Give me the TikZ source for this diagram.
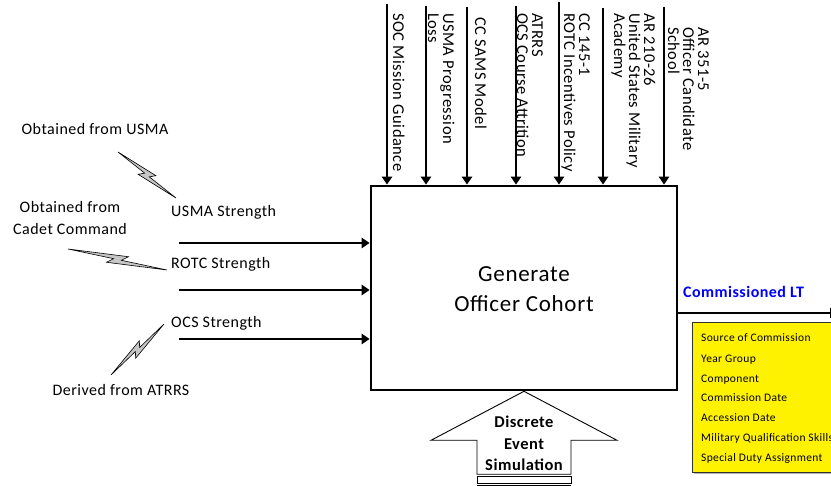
\documentclass[tikz,border=0pt]{standalone}
\usepackage{fontspec}
\setmainfont{Carlito}[LetterSpace=3]
\usetikzlibrary{arrows.meta,calc,shadows}

% Lightning-bolt link from a note (#1) to the label it annotates (#2)
\newcommand\lightningbolt[2]{%
  \filldraw[bolt] (#1)
    -- ($(#1)!0.60!(#2)!5pt!90:(#2)$)
    -- ($(#1)!0.54!(#2)$)
    -- (#2)
    -- ($(#1)!0.40!(#2)!5pt!-90:(#2)$)
    -- ($(#1)!0.46!(#2)$)
    -- cycle;}

\begin{document}
\begin{tikzpicture}[x=1pt,y=-1pt,
  feed/.style={line width=2.6pt,-{Triangle[length=8pt,width=10pt]}},
  procbox/.style={draw,line width=2.6pt,minimum width=306pt,minimum height=204pt,inner sep=0pt},
  proctext/.style={align=center,inner sep=0pt,font=\fontsize{23}{30}\selectfont},
  vlabel/.style={rotate=-90,anchor=south west,align=left,inner sep=0pt,text depth=0pt,
    font=\fontsize{16.5}{15}\selectfont},
  inlabel/.style={inner sep=0pt,font=\fontsize{16}{22}\selectfont},
  bolt/.style={fill=gray!45,draw=black,line width=0.6pt,line join=miter},
  outlabel/.style={inner sep=0pt,text=blue,font=\fontsize{16}{18}\selectfont\bfseries},
  attrbox/.style={draw=black!80,line width=0.8pt,fill=yellow,minimum width=160pt,minimum height=150pt,
    inner sep=0pt,drop shadow={shadow xshift=2pt,shadow yshift=-2pt,opacity=0.6}},
  attrtext/.style={align=left,inner sep=0pt,font=\fontsize{11.5}{20}\selectfont},
  mechtext/.style={align=center,inner sep=0pt,font=\fontsize{16.5}{21.5}\selectfont\bfseries}]
\useasboundingbox (0,0) rectangle (831,486);

% Activity box
\node[procbox] (proc) at (524,288) {};
\node[proctext,anchor=base] (proclabel) at (524,312) {Generate\\Officer Cohort};

% Controls entering from the top
\coordinate (c1) at (387,4);
\coordinate (c2) at (426,6);
\coordinate (c3) at (467,7);
\coordinate (c4) at (516,6);
\coordinate (c5) at (559,2);
\coordinate (c6) at (603,8);
\coordinate (c7) at (664,7);
\foreach \c in {c1,c2,c3,c4,c5,c6,c7}
  \draw[feed] (\c) -- (\c |- proc.north);

\node[vlabel] (lc1) at (393,13) {SOC Mission Guidance};
\node[vlabel] (lc2) at (428,13) {USMA Progression\\Loss};
\node[vlabel] (lc3) at (475,17) {CC SAMS Model};
\node[vlabel] (lc4) at (517,13) {ATRRS\\OCS Course Attrition};
\node[vlabel] (lc5) at (564,13) {CC 145-1\\ROTC Incentives Policy};
\node[vlabel] (lc6) at (614,13) {AR 210-26\\United States Military\\Academy};
\node[vlabel] (lc7) at (668,27) {AR 351-5\\Officer Candidate\\School};

% Inputs entering from the left
\coordinate (i1) at (179,243);
\coordinate (i2) at (179,290);
\coordinate (i3) at (179,339);
\foreach \i in {i1,i2,i3}
  \draw[feed] (\i) -- (\i -| proc.west);

\node[inlabel,anchor=base west] (usma) at (171,217) {USMA Strength};
\node[inlabel,anchor=base west] (rotc) at (171,269) {ROTC Strength};
\node[inlabel,anchor=base west] (ocs) at (171,328) {OCS Strength};

% Data sources and their bolts
\node[inlabel,anchor=base] (srcusma) at (95,135) {Obtained from USMA};
\node[inlabel,anchor=base,align=center] (srccc) at (70,235) {Obtained from\\Cadet Command};
\node[inlabel,anchor=base] (srcatrrs) at (121,396) {Derived from ATRRS};

\coordinate (b1s) at (118,152); \coordinate (b1e) at (176,198);
\coordinate (b2s) at (68,249);  \coordinate (b2e) at (167,270);
\coordinate (b3s) at (111,375); \coordinate (b3e) at (164,324);
\lightningbolt{b1s}{b1e}
\lightningbolt{b2s}{b2e}
\lightningbolt{b3s}{b3e}

% Output
\coordinate (o1) at (838,313);
\draw[feed] (o1 -| proc.east) -- (o1);
\node[outlabel,anchor=base west] (outname) at (683,298) {Commissioned LT};
\node[attrbox,anchor=north west] (attrs) at (692,322) {};
\node[attrtext,anchor=base west] (attrlist) at (701,462)
  {Source of Commission\\Year Group\\Component\\Commission Date\\Accession Date\\
   Military Qualification Skills\\Special Duty Assignment};

% Mechanism: block arrow pointing up into the activity
\draw[line width=0.9pt,fill=white,line join=miter] (proc.south)
  -- ++(93,49) -- ++(-46,0) -- ++(0,34) -- ++(-94,0) -- ++(0,-34) -- ++(-46,0) -- cycle;
\node[mechtext,anchor=base] (mech) at (524,471) {Discrete\\Event\\Simulation};
\draw[line width=0.9pt] (477,476) rectangle (571,483);
\draw[line width=0.9pt] (477,485.5) -- (571,485.5);
\end{tikzpicture}
\end{document}
